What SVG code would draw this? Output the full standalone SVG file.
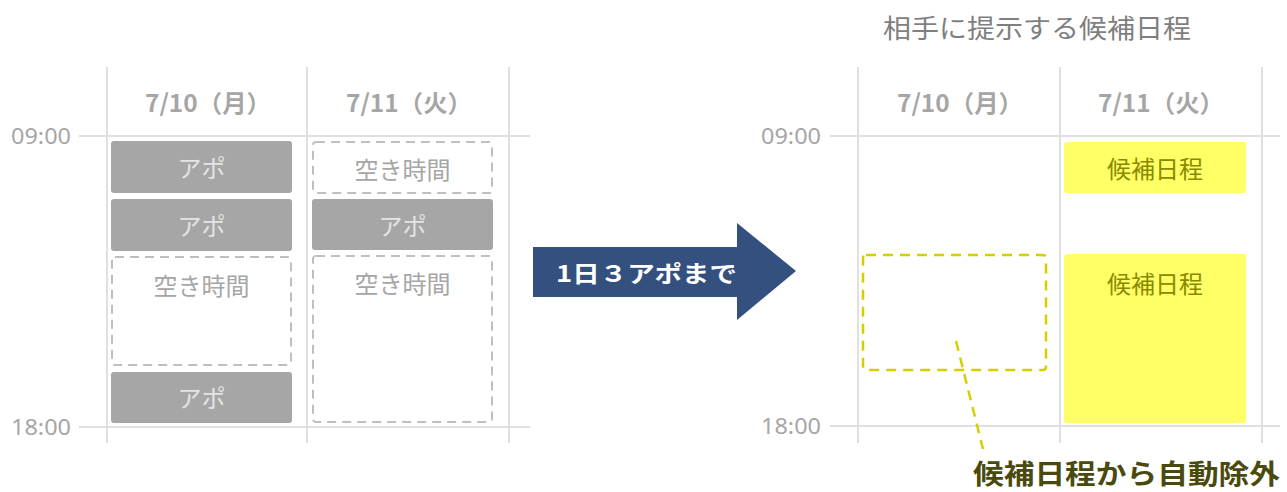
<svg xmlns="http://www.w3.org/2000/svg" width="1287" height="492" viewBox="0 0 1287 492">
<style>
.grid{stroke:#e0e0e0;stroke-width:2;fill:none}
.time{font-family:"Noto Sans","Noto Sans CJK JP",sans-serif;font-size:21px;fill:#a6a6a6;text-anchor:end;dominant-baseline:central}
.date{font-family:"Noto Sans CJK JP",sans-serif;font-size:24px;font-weight:bold;fill:#a6a6a6;text-anchor:middle;dominant-baseline:central}
.apo{fill:#a6a6a6}
.apot{font-family:"Noto Sans CJK JP",sans-serif;font-size:24px;fill:#e4e4e4;text-anchor:middle;dominant-baseline:central}
.free{fill:#ffffff;stroke:#bfbfbf;stroke-width:2;stroke-dasharray:9 6}
.freet{font-family:"Noto Sans CJK JP",sans-serif;font-size:24px;fill:#a6a6a6;text-anchor:middle;dominant-baseline:central}
.cand{fill:#ffff66}
.candt{font-family:"Noto Sans CJK JP",sans-serif;font-size:24px;fill:#8a8a00;text-anchor:middle;dominant-baseline:central}
.ydash{fill:none;stroke:#d4cf00;stroke-width:2.5;stroke-dasharray:10 7}
</style>

<g id="left-calendar">
  <line class="grid" x1="107" y1="67" x2="107" y2="443"/>
  <line class="grid" x1="307" y1="67" x2="307" y2="443"/>
  <line class="grid" x1="509" y1="67" x2="509" y2="443"/>
  <line class="grid" x1="79" y1="136" x2="530" y2="136"/>
  <line class="grid" x1="79" y1="427" x2="530" y2="427"/>
  <text class="time" x="71" y="136" textLength="60" lengthAdjust="spacingAndGlyphs">09:00</text>
  <text class="time" x="71" y="427" textLength="60" lengthAdjust="spacingAndGlyphs">18:00</text>
  <text class="date" x="208" y="101" textLength="126" lengthAdjust="spacingAndGlyphs">7/10（月）</text>
  <text class="date" x="409" y="101" textLength="126" lengthAdjust="spacingAndGlyphs">7/11（火）</text>
</g>

<g id="l-apo1"><rect class="apo" x="111" y="141" width="181" height="52" rx="3"/><text class="apot" x="201.5" y="166">アポ</text></g>
<g id="l-apo2"><rect class="apo" x="111" y="199" width="181" height="52" rx="3"/><text class="apot" x="201.5" y="224">アポ</text></g>
<g id="l-free"><rect class="free" x="112" y="257" width="179" height="108" rx="3"/><text class="freet" x="201.5" y="284">空き時間</text></g>
<g id="l-apo3"><rect class="apo" x="111" y="372" width="181" height="51" rx="3"/><text class="apot" x="201.5" y="396">アポ</text></g>

<g id="r-free1"><rect class="free" x="313" y="142" width="179" height="51" rx="3"/><text class="freet" x="402.5" y="168">空き時間</text></g>
<g id="r-apo"><rect class="apo" x="312" y="199" width="181" height="51" rx="3"/><text class="apot" x="402.5" y="224">アポ</text></g>
<g id="r-free2"><rect class="free" x="313" y="256" width="179" height="166" rx="3"/><text class="freet" x="402.5" y="282">空き時間</text></g>

<g id="arrow">
  <polygon points="533,247 737,247 737,223 796,271 737,320 737,297 533,297" fill="#34507f"/>
  <text x="556" y="272" textLength="181" lengthAdjust="spacingAndGlyphs" font-family="'Noto Sans CJK JP',sans-serif" font-size="23" font-weight="bold" fill="#ffffff" dominant-baseline="central">1日３アポまで</text>
</g>

<g id="title">
  <text x="1037" y="26" text-anchor="middle" textLength="308" lengthAdjust="spacingAndGlyphs" font-family="'Noto Sans CJK JP',sans-serif" font-size="26" fill="#7f7f7f" dominant-baseline="central">相手に提示する候補日程</text>
</g>

<g id="right-calendar">
  <line class="grid" x1="858" y1="67" x2="858" y2="443"/>
  <line class="grid" x1="1060" y1="67" x2="1060" y2="443"/>
  <line class="grid" x1="1262" y1="67" x2="1262" y2="443"/>
  <line class="grid" x1="830" y1="136" x2="1280" y2="136"/>
  <line class="grid" x1="830" y1="426" x2="1280" y2="426"/>
  <text class="time" x="821" y="136" textLength="60" lengthAdjust="spacingAndGlyphs">09:00</text>
  <text class="time" x="821" y="426" textLength="60" lengthAdjust="spacingAndGlyphs">18:00</text>
  <text class="date" x="960" y="101" textLength="126" lengthAdjust="spacingAndGlyphs">7/10（月）</text>
  <text class="date" x="1161" y="101" textLength="126" lengthAdjust="spacingAndGlyphs">7/11（火）</text>
</g>

<g id="cand1"><rect class="cand" x="1064" y="142" width="182" height="51" rx="3"/><text class="candt" x="1155" y="167">候補日程</text></g>
<g id="cand2"><rect class="cand" x="1064" y="254" width="182" height="169" rx="3"/><text class="candt" x="1155" y="282">候補日程</text></g>
<g id="excluded"><rect class="ydash" x="863" y="255" width="183" height="115" rx="3"/></g>

<g id="connectors">
  <line class="ydash" x1="956" y1="341" x2="983" y2="449"/>
</g>

<g id="note">
  <text x="973" y="472" textLength="307" lengthAdjust="spacingAndGlyphs" font-family="'Noto Sans CJK JP',sans-serif" font-size="27" font-weight="bold" fill="#4a4a0e" dominant-baseline="central">候補日程から自動除外</text>
</g>
</svg>
